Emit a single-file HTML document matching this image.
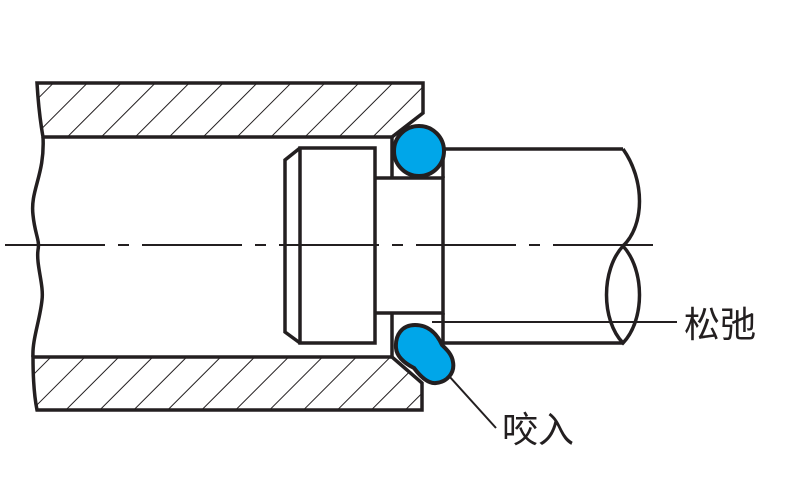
<!DOCTYPE html>
<html><head><meta charset="utf-8"><style>html,body{margin:0;padding:0;background:#fff}svg{display:block}</style></head><body>
<svg width="800" height="500" viewBox="0 0 800 500" xmlns="http://www.w3.org/2000/svg">
<defs>
<pattern id="h" patternUnits="userSpaceOnUse" width="24" height="24" patternTransform="rotate(45)">
<line x1="0" y1="0" x2="0" y2="24" stroke="#231f20" stroke-width="2"/>
</pattern>
</defs>
<g stroke="#231f20" fill="none" stroke-linecap="butt" stroke-linejoin="miter">
<path d="M37,83 L423,83 L423,113 L392,137 L43,137 C40,120 38,100 37,83 Z" fill="url(#h)" stroke-width="3.5"/>
<path d="M33,357 L392,357 L422,383 L422,410 L37,410 C34,395 33,375 33,357 Z" fill="url(#h)" stroke-width="3.5"/>
<path d="M43,137 C45,175 30,190 33,215 C35,235 40,240 38,250 C36,265 44,285 42,300 C40,320 32,340 33,357" stroke-width="3.5"/>
<path d="M300,148 L375,148 L375,343 L300,343 Z" stroke-width="3.5"/>
<path d="M300,148 L285,160 L285,332 L300,343" stroke-width="3.5"/>
<path d="M375,178 L443,178 L443,313 L375,313" stroke-width="3.5"/>
<line x1="392" y1="137" x2="392" y2="178" stroke-width="3.5"/>
<line x1="392" y1="313" x2="392" y2="357" stroke-width="3.5"/>
<line x1="443" y1="149" x2="623" y2="149" stroke-width="3.5"/>
<line x1="443" y1="343" x2="623" y2="343" stroke-width="3.5"/>
<line x1="443" y1="178" x2="443" y2="149" stroke-width="3.5"/>
<line x1="443" y1="313" x2="443" y2="343" stroke-width="3.5"/>
<path d="M623,149 C645,180 645,225 623,246" stroke-width="3.5"/>
<path d="M623,246 C601,270 601,320 623,343 C645,320 645,270 623,246 Z" stroke-width="3.5"/>
<line x1="5" y1="245" x2="660" y2="245" stroke-width="2" stroke-dasharray="100 13 11 13"/>
<line x1="432" y1="322" x2="677" y2="322" stroke-width="2"/>
<line x1="449" y1="376" x2="496" y2="428" stroke-width="2"/>
<circle cx="419" cy="151" r="25" fill="#00a6e9" stroke-width="4"/>
<path d="M415,325 C402,325 395,335 396,348 C397,358 406,364 414,368 C420,376 428,384 436,383 C447,382 455,373 453,362 C452,354 446,349 442,345 C438,336 430,325 415,325 Z" fill="#00a6e9" stroke-width="4"/>
</g>
<g font-family="'Liberation Sans','Noto Sans CJK SC',sans-serif" font-size="36" fill="#231f20">
<text x="684" y="337">松弛</text>
<text x="502" y="442">咬入</text>
</g>
</svg>
</body></html>
